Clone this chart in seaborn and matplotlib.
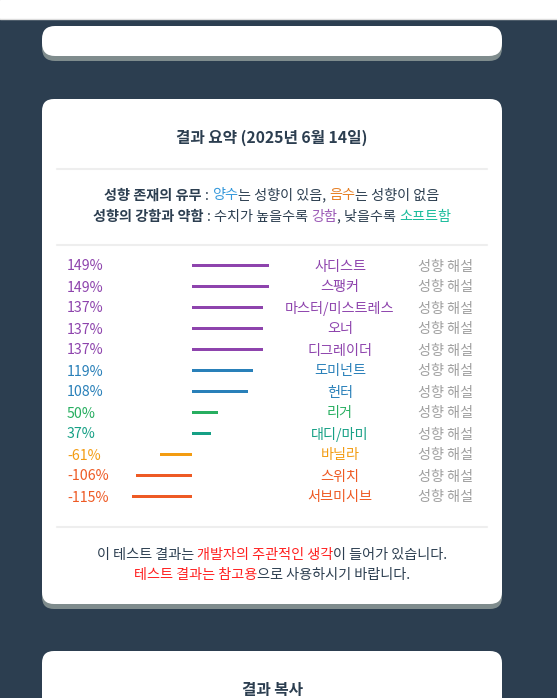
import matplotlib
matplotlib.use("Agg")
import matplotlib.pyplot as plt
from matplotlib.patches import FancyBboxPatch, Rectangle
from matplotlib.transforms import offset_copy
import seaborn as sns
import pandas as pd

# ---------------- data ----------------
names = ["사디스트", "스팽커", "마스터/미스트레스", "오너", "디그레이더", "도미넌트",
         "헌터", "리거", "대디/마미", "바닐라", "스위치", "서브미시브"]
values = [149, 149, 137, 137, 137, 119, 108, 50, 37, -61, -106, -115]
colors = ["#8e44ad", "#8e44ad", "#8e44ad", "#8e44ad", "#8e44ad", "#2980b9",
          "#2980b9", "#27ae60", "#16a085", "#f39c12", "#ee5a24", "#ee5a24"]
link_label = "성향 해설"
title = "결과 요약 (2025년 6월 14일)"
title2 = "결과 복사"
header1 = [("성향 존재의 유무", "#2c3e50", "bold"), (" : ", "#2c3e50", "normal"),
           ("양수", "#3498db", "normal"), ("는 성향이 있음, ", "#2c3e50", "normal"),
           ("음수", "#e67e22", "normal"), ("는 성향이 없음", "#2c3e50", "normal")]
header2 = [("성향의 강함과 약함", "#2c3e50", "bold"), (" : 수치가 높을수록 ", "#2c3e50", "normal"),
           ("강함", "#9b59b6", "normal"), (", 낮을수록 ", "#2c3e50", "normal"),
           ("소프트함", "#1abc9c", "normal")]
footer1 = [("이 테스트 결과는 ", "#2c3e50", "normal"),
           ("개발자의 주관적인 생각", "#ff2020", "normal"),
           ("이 들어가 있습니다.", "#2c3e50", "normal")]
footer2 = [("테스트 결과는 참고용", "#ff2020", "normal"),
           ("으로 사용하시기 바랍니다.", "#2c3e50", "normal")]

sns.set_style("white")
plt.rcParams["font.family"] = ["Noto Sans CJK KR", "DejaVu Sans"]

W, H = 557, 698
fig = plt.figure(figsize=(W / 100, H / 100), dpi=100)
fig.patch.set_facecolor("#2c3e50")

# background axes in pixel coordinates
bg = fig.add_axes([0, 0, 1, 1])
bg.set_xlim(0, W)
bg.set_ylim(H, 0)
bg.axis("off")

bg.add_patch(Rectangle((0, 0), W, 18, color="white", zorder=1))
bg.plot([0, W], [18.5, 18.5], color="#dddddd", lw=1, zorder=2)


def card(x0, y0, x1, y1, r=12):
    bg.add_patch(FancyBboxPatch((x0 + r, y0 + 5 + r), (x1 - x0) - 2 * r, (y1 - y0) - 2 * r,
                                boxstyle=f"round,pad={r},rounding_size={r}",
                                fc="#7f8c8d", ec="none", zorder=2))
    bg.add_patch(FancyBboxPatch((x0 + r, y0 + r), (x1 - x0) - 2 * r, (y1 - y0) - 2 * r,
                                boxstyle=f"round,pad={r},rounding_size={r}",
                                fc="white", ec="none", zorder=3))


card(42, 26, 502, 56, r=13)
card(42, 99, 502, 604)
card(42, 651, 502, 760)

CX = 272
bg.text(CX, 142.5, title, ha="center", va="baseline", fontsize=11.3, fontweight="bold",
        color="#2c3e50", zorder=5)
bg.text(CX, 695, title2, ha="center", va="baseline", fontsize=11.3, fontweight="bold",
        color="#2c3e50", zorder=5)

for yy in (169, 245, 527):
    bg.plot([57, 487], [yy, yy], color="#eeeeee", lw=1.5, zorder=4)

renderer = fig.canvas.get_renderer()
FS = 10.2


def width_of(s, weight, size):
    t = bg.text(0, 0, "X" + s + "X", fontsize=size, fontweight=weight)
    t2 = bg.text(0, 0, "XX", fontsize=size, fontweight=weight)
    w = t.get_window_extent(renderer).width - t2.get_window_extent(renderer).width
    t.remove()
    t2.remove()
    return w


def seg_line(segs, y, size=FS):
    widths = [width_of(s, wt, size) for s, c, wt in segs]
    x = CX - sum(widths) / 2
    for (s, c, wt), w in zip(segs, widths):
        lead = len(s) - len(s.lstrip(" "))
        stripped = s.strip(" ")
        x_off = width_of(" " * lead, wt, size) if lead else 0
        if stripped:
            bg.text(x + x_off, y, stripped, ha="left", va="baseline", fontsize=size,
                    fontweight=wt, color=c, zorder=5)
        x += w


seg_line(header1, 199.5)
seg_line(header2, 220.5)
seg_line(footer1, 558.5)
seg_line(footer2, 579.5)

# ---------------- bars ----------------
row0, step = 265, 21
n = len(names)
top_px = row0 - step / 2
bot_px = row0 + step * (n - 0.5)
left_px, right_px = 57, 487
zero_px, k = 191.5, 0.52

ax = fig.add_axes([left_px / W, 1 - bot_px / H, (right_px - left_px) / W, (bot_px - top_px) / H])
ax.set_zorder(6)
df = pd.DataFrame({"name": names, "value": values})
sns.barplot(data=df, x="value", y="name", hue="name", palette=colors, orient="h",
            width=3 / step, dodge=False, legend=False, ax=ax, saturation=1,
            linewidth=0, edgecolor="none")
ax.set_xlim((left_px - zero_px) / k, (right_px - zero_px) / k)
ax.set_ylim(n - 0.5, -0.5)
ax.axis("off")

tr = offset_copy(ax.get_yaxis_transform(), fig=fig, x=0, y=-5.5, units="dots")
span = right_px - left_px
for i, (nm, v, c) in enumerate(zip(names, values, colors)):
    ax.text((67 - left_px) / span, i, f"{v}%", transform=tr, ha="left", va="baseline",
            fontsize=FS, color=c)
    ax.text((340 - left_px) / span, i, nm, transform=tr, ha="center", va="baseline",
            fontsize=FS, color=c)
    ax.text((446 - left_px) / span, i, link_label, transform=tr, ha="center", va="baseline",
            fontsize=FS, color="#a0a0a0")

fig.savefig("out.png", dpi=100, facecolor=fig.get_facecolor())
